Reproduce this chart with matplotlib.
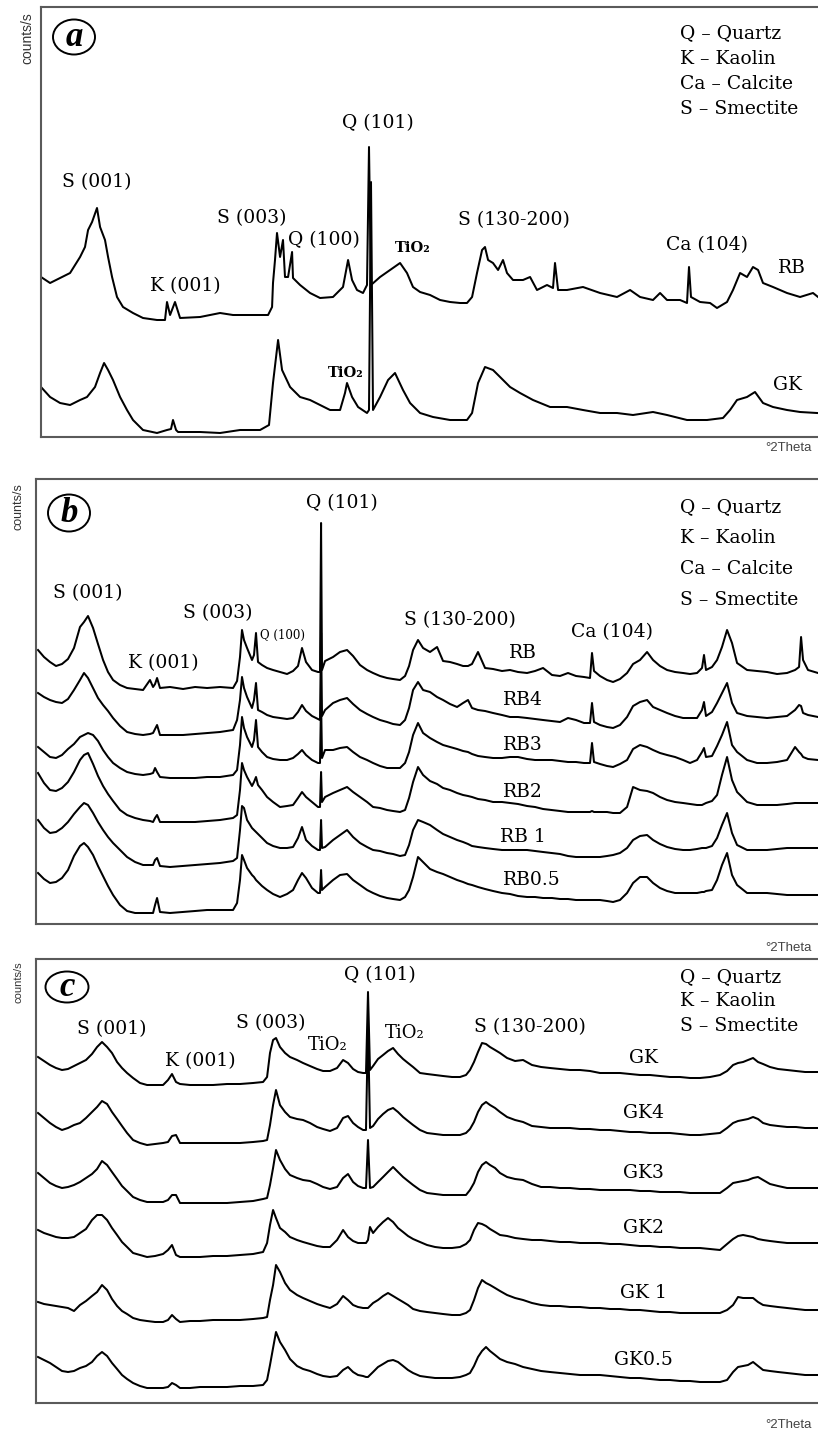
import numpy as np
import matplotlib
matplotlib.use("Agg")
import matplotlib.pyplot as plt
from matplotlib.patches import Ellipse

# ---------------- data: XRD scans, intensity in counts above each trace baseline ----------------
# (a) raw clays
tt_a_rb = [2.00, 2.68, 3.43, 4.18, 4.93, 5.30, 5.53, 5.83, 6.20, 6.43, 6.80, 7.03, 7.33, 7.70, 8.15, 8.90,
           9.65, 10.70, 11.30, 11.45, 11.68, 12.05, 12.43, 13.93, 15.43, 16.40, 17.90, 19.03, 19.33, 19.40,
           19.55, 19.70, 19.93, 20.15, 20.30, 20.53, 20.83, 20.90, 21.43, 22.18, 22.93, 23.90, 24.65, 25.03,
           25.33, 25.70, 26.15, 26.45, 26.60, 26.75, 27.43, 28.18, 28.93, 29.45, 29.90, 30.43, 31.18, 31.93,
           32.68, 33.43, 33.95, 34.33, 34.70, 35.08, 35.30, 35.53, 35.90, 36.28, 36.65, 36.95, 37.40, 38.15,
           38.68, 39.20, 39.95, 40.40, 40.55, 40.78, 41.45, 42.65, 43.93, 45.20, 46.18, 46.93, 47.90, 48.43,
           48.95, 49.93, 50.45, 50.60, 50.75, 51.43, 52.18, 52.70, 53.45, 53.90, 54.43, 54.95, 55.40, 55.78,
           56.15, 56.90, 57.95, 58.93, 59.90, 60.28]
rb_a = [43, 37, 42, 47, 63, 73, 90, 98, 112, 93, 80, 63, 43, 23, 13, 7, 2, 0, 0, 18, 5, 18, 2, 3, 7, 5, 5, 5,
        13, 37, 60, 87, 63, 80, 43, 43, 68, 42, 35, 27, 22, 23, 33, 60, 40, 30, 27, 35, 173, 35, 43, 50, 57,
        47, 33, 28, 25, 20, 18, 17, 17, 23, 47, 70, 73, 60, 57, 50, 60, 47, 40, 40, 43, 30, 35, 32, 57, 30,
        30, 33, 27, 23, 30, 23, 20, 27, 20, 20, 17, 53, 23, 18, 17, 12, 18, 30, 47, 43, 53, 50, 37, 33, 27,
        23, 27, 23]

tt_a_gk = [2.00, 2.68, 3.43, 4.18, 4.93, 5.45, 6.05, 6.43, 6.73, 7.03, 7.40, 7.93, 8.45, 8.90, 9.65, 10.70,
           11.45, 11.75, 11.90, 12.13, 12.28, 13.93, 15.43, 16.93, 18.43, 19.10, 19.40, 19.63, 19.78, 20.08,
           20.68, 21.43, 22.18, 22.93, 23.68, 24.43, 24.80, 24.95, 25.33, 25.78, 26.45, 26.60, 26.75, 26.90,
           27.43, 28.03, 28.55, 29.15, 29.68, 30.43, 31.40, 32.68, 33.95, 34.33, 34.78, 35.30, 35.90, 36.43,
           37.18, 37.93, 38.90, 40.18, 41.45, 42.65, 43.93, 45.20, 46.40, 47.90, 48.95, 50.45, 51.95, 53.15,
           53.68, 54.20, 54.95, 55.55, 56.15, 56.90, 57.95, 58.93, 60.20]
gk_a = [46, 36, 30, 28, 33, 36, 46, 60, 70, 63, 53, 36, 23, 13, 3, 0, 3, 4, 13, 3, 1, 1, 0, 3, 3, 8, 50, 76,
        93, 63, 46, 36, 33, 28, 23, 23, 40, 50, 36, 26, 20, 23, 251, 23, 36, 53, 60, 43, 30, 20, 16, 13, 13,
        20, 50, 66, 63, 56, 46, 40, 33, 26, 26, 23, 20, 20, 18, 21, 18, 13, 13, 15, 23, 33, 36, 41, 30, 26,
        23, 21, 20]

# (b) RB series
tt_b = [2.17, 2.68, 3.19, 3.70, 4.21, 4.72, 5.23, 5.74, 6.08, 6.42,
        6.85, 7.27, 7.70, 8.12, 8.55, 9.14, 9.74, 10.42, 11.10, 11.69,
        11.95, 12.12, 12.29, 12.54, 13.39, 14.50, 15.52, 16.54, 17.64, 18.75,
        19.09, 19.34, 19.51, 19.68, 19.94, 20.36, 20.53, 20.70, 20.87, 21.21,
        21.64, 22.15, 22.74, 23.34, 23.85, 24.27, 24.61, 24.95, 25.46, 25.97,
        26.14, 26.23, 26.31, 26.57, 27.25, 27.84, 28.44, 28.95, 29.54, 30.14,
        30.65, 31.24, 31.84, 32.35, 32.94, 33.37, 33.71, 34.05, 34.47, 34.90,
        35.49, 36.09, 36.60, 37.19, 37.79, 38.30, 38.72, 39.06, 39.57, 40.17,
        40.85, 41.61, 42.29, 42.97, 43.74, 44.42, 45.10, 45.86, 46.54, 47.22,
        47.90, 48.58, 49.09, 49.26, 49.43, 49.94, 50.54, 51.05, 51.64, 52.24,
        52.75, 53.34, 53.94, 54.45, 55.04, 55.64, 56.32, 57.00, 57.59, 58.19,
        58.61, 58.78, 58.95, 59.46, 59.89, 60.31, 60.74, 61.16, 61.59, 62.44,
        63.29, 64.14, 64.99, 65.84, 66.52, 66.86, 67.03, 67.20, 67.62, 68.47]
rb_b = [40, 33, 28, 24, 26, 31, 42, 63, 68, 74,
        62, 46, 30, 18, 10, 5, 2, 1, 0, 10,
        3, 6, 12, 2, 3, 1, 3, 2, 3, 2,
        9, 33, 60, 50, 42, 30, 35, 57, 28, 25,
        22, 20, 18, 16, 19, 24, 42, 28, 20, 18,
        18, 167, 20, 29, 33, 38, 40, 34, 25, 20,
        17, 14, 12, 11, 10, 14, 24, 40, 50, 42,
        38, 43, 29, 28, 26, 24, 24, 26, 38, 22,
        21, 19, 20, 18, 17, 19, 22, 15, 14, 17,
        14, 13, 12, 37, 19, 14, 10, 8, 11, 17,
        26, 30, 38, 30, 24, 20, 18, 17, 16, 17,
        22, 35, 20, 23, 30, 43, 60, 47, 27, 20,
        19, 18, 16, 17, 20, 23, 53, 30, 20, 17]
rb4_b = [42, 38, 35, 33, 32, 36, 45, 55, 62, 57,
         47, 37, 30, 24, 17, 9, 3, 1, 0, 1,
         2, 6, 10, 0, 0, 0, 1, 2, 3, 5,
         15, 35, 58, 47, 38, 27, 35, 52, 25, 23,
         20, 18, 17, 16, 17, 23, 30, 24, 19, 16,
         15, 102, 19, 25, 32, 35, 37, 31, 25, 21,
         18, 15, 13, 11, 10, 15, 27, 45, 53, 45,
         43, 38, 35, 31, 28, 32, 35, 27, 25, 24,
         22, 20, 18, 18, 17, 16, 15, 14, 13, 17,
         15, 12, 12, 32, 13, 10, 8, 7, 10, 18,
         29, 33, 35, 28, 25, 22, 19, 17, 17, 17,
         25, 33, 19, 23, 32, 42, 52, 32, 22, 19,
         18, 17, 18, 19, 25, 30, 29, 22, 20, 18]
rb3_b = [31, 26, 21, 20, 23, 29, 34, 41, 43, 45,
         43, 37, 28, 21, 15, 10, 6, 4, 3, 4,
         5, 10, 6, 1, 0, 0, 0, 1, 1, 3,
         8, 33, 61, 50, 41, 31, 38, 58, 31, 26,
         21, 19, 18, 18, 20, 24, 28, 23, 18, 15,
         15, 78, 20, 28, 28, 30, 31, 26, 21, 18,
         15, 12, 10, 10, 10, 15, 26, 43, 55, 45,
         40, 36, 33, 31, 29, 27, 26, 24, 22, 21,
         20, 20, 21, 21, 19, 18, 18, 18, 17, 16,
         16, 15, 15, 35, 16, 14, 12, 11, 14, 18,
         29, 33, 31, 28, 25, 23, 21, 18, 15, 18,
         26, 30, 21, 22, 32, 43, 56, 33, 26, 18,
         15, 15, 16, 18, 31, 26, 24, 21, 19, 18]
rb2_b = [49, 39, 32, 31, 34, 40, 50, 62, 67, 69,
         58, 46, 36, 28, 21, 12, 7, 4, 2, 1,
         0, 4, 7, 0, 0, 0, 0, 1, 2, 4,
         7, 32, 59, 52, 45, 36, 40, 45, 37, 32,
         25, 20, 15, 16, 17, 24, 30, 25, 20, 15,
         15, 50, 20, 25, 29, 32, 35, 30, 25, 20,
         15, 14, 12, 11, 10, 12, 24, 40, 55, 47,
         41, 38, 34, 32, 29, 27, 26, 25, 23, 22,
         20, 20, 19, 18, 16, 15, 13, 12, 11, 10,
         10, 10, 10, 11, 10, 10, 10, 9, 9, 15,
         35, 32, 31, 29, 25, 22, 20, 19, 18, 17,
         17, 18, 19, 21, 27, 47, 65, 42, 30, 20,
         17, 17, 17, 18, 19, 19, 19, 19, 19, 19]
rb1_b = [47, 39, 34, 35, 39, 45, 53, 60, 64, 62,
         54, 45, 37, 30, 24, 17, 10, 5, 2, 2,
         2, 7, 9, 1, 0, 1, 2, 3, 4, 6,
         9, 37, 61, 59, 47, 39, 37, 35, 33, 29,
         24, 21, 19, 19, 20, 29, 40, 27, 21, 17,
         17, 47, 19, 20, 27, 32, 37, 30, 24, 20,
         17, 16, 14, 13, 11, 12, 22, 37, 47, 45,
         42, 37, 33, 30, 27, 25, 23, 21, 20, 19,
         18, 17, 17, 17, 17, 16, 15, 14, 13, 11,
         10, 10, 10, 10, 10, 10, 11, 12, 14, 19,
         27, 31, 32, 27, 23, 20, 18, 17, 17, 18,
         19, 19, 19, 21, 29, 42, 54, 34, 22, 17,
         17, 17, 18, 19, 19, 19, 19, 19, 19, 19]
rb05_b = [40, 34, 30, 31, 35, 43, 57, 67, 70, 66,
          58, 47, 37, 27, 18, 8, 2, 0, 0, 0,
          0, 8, 15, 1, 0, 1, 2, 3, 3, 3,
          10, 33, 58, 53, 45, 38, 36, 33, 31, 27,
          23, 19, 16, 19, 23, 33, 40, 35, 25, 20,
          20, 43, 23, 26, 33, 38, 39, 33, 28, 23,
          20, 17, 15, 14, 13, 16, 23, 36, 56, 51,
          44, 41, 39, 36, 33, 31, 29, 28, 26, 24,
          22, 20, 19, 17, 16, 16, 15, 15, 14, 14,
          13, 13, 13, 13, 13, 13, 12, 11, 13, 20,
          30, 36, 36, 30, 25, 22, 20, 20, 20, 20,
          21, 21, 22, 23, 33, 48, 60, 38, 28, 20,
          20, 20, 19, 18, 18, 18, 18, 18, 18, 18]

# (c) GK series
tt_c = [2.15, 2.60, 3.05, 3.50, 3.95, 4.40, 4.85, 5.30, 5.75, 6.20,
        6.58, 6.95, 7.33, 7.70, 8.08, 8.45, 8.83, 9.28, 9.80, 10.33,
        10.93, 11.53, 11.90, 12.20, 12.50, 12.80, 13.55, 14.30, 15.28, 16.33,
        17.30, 18.28, 19.03, 19.33, 19.55, 19.78, 20.00, 20.30, 20.68, 21.05,
        21.58, 22.03, 22.55, 23.08, 23.53, 24.05, 24.58, 25.03, 25.40, 25.78,
        26.15, 26.53, 26.75, 26.90, 27.05, 27.28, 27.65, 28.03, 28.40, 28.78,
        29.15, 29.53, 29.90, 30.28, 30.80, 31.33, 31.93, 32.53, 33.20, 33.80,
        34.25, 34.55, 34.85, 35.15, 35.45, 35.75, 36.05, 36.43, 36.80, 37.33,
        37.93, 38.53, 39.20, 39.88, 40.55, 41.30, 42.05, 42.80, 43.55, 44.30,
        45.05, 45.80, 46.55, 47.30, 48.05, 48.80, 49.55, 50.30, 51.05, 51.80,
        52.55, 53.30, 53.83, 54.28, 54.65, 55.03, 55.40, 55.78, 56.15, 56.53,
        57.05, 57.65, 58.33, 59.00, 59.68, 60.65]
gk_c = [28, 24, 20, 17, 15, 16, 19, 22, 25, 31,
        38, 43, 38, 32, 23, 17, 12, 7, 2, 0,
        0, 0, 5, 11, 3, 1, 0, 0, 0, 1,
        1, 2, 3, 8, 32, 45, 47, 38, 32, 28,
        25, 22, 19, 16, 14, 14, 17, 25, 22, 16,
        13, 12, 12, 93, 15, 19, 26, 30, 34, 37,
        31, 26, 22, 18, 12, 11, 10, 9, 8, 8,
        10, 15, 23, 33, 42, 41, 38, 35, 32, 27,
        24, 25, 20, 18, 17, 16, 15, 15, 14, 12,
        12, 12, 11, 10, 10, 9, 8, 8, 7, 7,
        8, 10, 14, 20, 22, 23, 25, 27, 23, 21,
        18, 16, 15, 14, 13, 13]
gk4_c = [32, 27, 22, 18, 15, 17, 20, 22, 27, 33,
         38, 44, 41, 33, 26, 19, 12, 5, 2, 0,
         1, 2, 3, 9, 10, 2, 2, 2, 2, 2,
         2, 3, 4, 5, 20, 40, 55, 40, 33, 28,
         26, 25, 22, 18, 16, 14, 17, 27, 29, 22,
         18, 15, 15, 120, 17, 19, 26, 31, 35, 37,
         33, 28, 24, 20, 15, 12, 11, 10, 10, 10,
         12, 16, 23, 33, 40, 43, 40, 37, 33, 28,
         25, 23, 19, 18, 17, 17, 17, 16, 16, 15,
         15, 14, 13, 13, 12, 12, 12, 11, 10, 10,
         11, 12, 17, 22, 24, 25, 26, 28, 26, 22,
         20, 19, 18, 18, 17, 17]
gk3_c = [30, 25, 20, 17, 15, 16, 18, 21, 25, 29,
         34, 42, 38, 31, 24, 17, 12, 6, 3, 1,
         1, 1, 3, 8, 8, 0, 0, 0, 0, 0,
         1, 2, 4, 5, 18, 35, 53, 43, 34, 28,
         25, 23, 22, 19, 16, 14, 16, 25, 29, 21,
         17, 15, 15, 63, 15, 16, 21, 26, 31, 36,
         31, 26, 22, 18, 13, 10, 9, 8, 8, 8,
         8, 13, 20, 31, 38, 41, 38, 35, 30, 26,
         24, 23, 19, 16, 16, 15, 15, 14, 14, 13,
         13, 13, 13, 12, 12, 11, 11, 11, 10, 10,
         10, 10, 15, 20, 21, 22, 23, 25, 26, 23,
         19, 17, 15, 15, 15, 15]
gk2_c = [27, 24, 22, 20, 19, 19, 20, 24, 28, 37,
         42, 42, 37, 29, 22, 15, 10, 4, 2, 0,
         1, 3, 7, 12, 2, 0, 0, 0, 1, 1,
         2, 3, 5, 14, 32, 47, 39, 29, 25, 20,
         17, 15, 13, 11, 10, 10, 17, 27, 20, 16,
         14, 14, 14, 17, 30, 24, 30, 35, 39, 35,
         29, 25, 21, 18, 15, 12, 10, 9, 9, 10,
         13, 17, 27, 34, 33, 31, 28, 25, 22, 21,
         19, 18, 17, 17, 16, 15, 15, 14, 14, 14,
         13, 13, 12, 11, 11, 10, 10, 9, 9, 9,
         8, 7, 13, 18, 21, 22, 21, 20, 18, 17,
         16, 15, 14, 14, 14, 14]
gk1_c = [20, 18, 17, 16, 15, 14, 11, 17, 21, 26,
         30, 37, 32, 23, 16, 11, 8, 4, 2, 1,
         0, 0, 2, 7, 3, 0, 1, 1, 2, 2,
         2, 3, 4, 5, 22, 37, 57, 50, 39, 32,
         27, 24, 21, 18, 16, 14, 18, 26, 22, 17,
         15, 14, 14, 14, 16, 19, 22, 26, 29, 26,
         23, 20, 17, 13, 11, 10, 9, 8, 7, 7,
         9, 12, 22, 34, 42, 39, 37, 34, 31, 27,
         24, 22, 19, 17, 16, 16, 15, 15, 14, 14,
         13, 13, 12, 12, 11, 10, 10, 9, 9, 9,
         9, 9, 12, 17, 25, 24, 24, 24, 20, 17,
         16, 15, 14, 13, 12, 12]
gk05_c = [31, 28, 25, 21, 17, 16, 17, 20, 22, 26,
          32, 36, 32, 25, 19, 13, 9, 5, 2, 0,
          0, 0, 1, 5, 3, 0, 0, 1, 1, 1,
          2, 2, 3, 8, 23, 40, 56, 46, 38, 29,
          22, 19, 17, 14, 12, 11, 12, 18, 21, 16,
          13, 12, 11, 11, 13, 16, 21, 24, 27, 28,
          26, 22, 18, 15, 12, 11, 10, 10, 10, 11,
          13, 15, 22, 31, 37, 41, 37, 33, 29, 26,
          24, 21, 19, 17, 16, 15, 14, 13, 13, 13,
          12, 11, 10, 10, 9, 8, 8, 7, 7, 6,
          6, 6, 8, 16, 21, 22, 23, 26, 22, 18,
          17, 16, 15, 14, 13, 13]

legend_rb = ["Q \u2013 Quartz", "K \u2013 Kaolin", "Ca \u2013 Calcite", "S \u2013 Smectite"]
legend_gk = ["Q \u2013 Quartz", "K \u2013 Kaolin", "S \u2013 Smectite"]

# ---------------- figure ----------------
W, H = 818, 1435
fig = plt.figure(figsize=(W / 100, H / 100), dpi=100)
SERIF = "DejaVu Serif"
SANS = "Liberation Sans"
TRACE_LW = 1.45


def fpos(x, y):
    return x / W, 1 - y / H


def panel(left, top, bottom, xlim):
    ax = fig.add_axes([left / W, 1 - bottom / H, 1 - left / W, (bottom - top) / H])
    ax.set_xlim(*xlim)
    ax.set_ylim(0, bottom - top)
    ax.set_xticks([])
    ax.set_yticks([])
    ax.spines["right"].set_visible(False)
    for s in ("left", "top", "bottom"):
        ax.spines[s].set_color("#5a5a5a")
        ax.spines[s].set_linewidth(1.5)
    return ax


def label(x, y, s, size=13.5, **kw):
    kw.setdefault("family", SERIF)
    kw.setdefault("ha", "center")
    kw.setdefault("va", "center")
    fig.text(*fpos(x, y), s, fontsize=size, color="black", **kw)


def badge(x, y, w, h, letter):
    fig.patches.append(Ellipse(fpos(x, y), w / W, h / H, transform=fig.transFigure,
                               fill=False, edgecolor="black", lw=1.4))
    label(x, y + 1, letter, size=25, family="Liberation Serif", weight="bold", style="italic")


def side_texts(xcounts, ycounts, count_size, ytheta):
    fig.text(*fpos(xcounts, ycounts), "counts/s", rotation=90, family=SANS, fontsize=count_size,
             color="#333333", ha="center", va="center")
    fig.text(*fpos(788, ytheta), "\u00b02Theta", family=SANS, fontsize=9.5, color="#444444",
             ha="center", va="center")


def legend(lines, y0, dy):
    for i, s in enumerate(lines):
        label(680, y0 + i * dy, s, size=13.5, ha="left")


def traces(ax, tt, series, offsets):
    for vals, off in zip(series, offsets):
        ax.plot(tt, np.asarray(vals) + off, color="black", lw=TRACE_LW)


# ---- (a) ----
ax_a = panel(41, 7, 437, (2.0, 60.275))
ax_a.plot(tt_a_rb, np.asarray(rb_a) + 117, color="black", lw=TRACE_LW)
ax_a.plot(tt_a_gk, np.asarray(gk_a) + 4, color="black", lw=TRACE_LW)
badge(74, 37, 42, 35, "a")
side_texts(27, 38, 10, 448)
legend(legend_rb, 33, 25.5)
label(97, 182, "S (001)")
label(185, 286, "K (001)")
label(252, 218, "S (003)")
label(324, 240, "Q (100)")
label(378, 123, "Q (101)")
label(413, 248, "TiO\u2082", size=10.5, weight="bold")
label(346, 373, "TiO\u2082", size=10.5, weight="bold")
label(514, 220, "S (130-200)")
label(707, 245, "Ca (104)")
label(792, 268, "RB")
label(787, 385, "GK")

# ---- (b) ----
ax_b = panel(36, 479, 924, (2.0, 68.47))
traces(ax_b, tt_b, [rb_b, rb4_b, rb3_b, rb2_b, rb1_b, rb05_b], [234, 189, 146, 102, 57, 11])
badge(69, 513, 42, 37, "b")
side_texts(19, 507, 9, 948)
legend(legend_rb, 507, 31)
label(342, 503, "Q (101)")
label(88, 593, "S (001)")
label(218, 613, "S (003)")
label(283, 635, "Q (100)", size=8.5)
label(163, 663, "K (001)")
label(460, 620, "S (130-200)")
label(612, 632, "Ca (104)")
for name, yy in zip(["RB", "RB4", "RB3", "RB2", "RB 1", "RB0.5"], [653, 700, 745, 792, 837, 880]):
    label(523 if name != "RB0.5" else 532, yy, name)

# ---- (c) ----
ax_c = panel(36, 959, 1403, (2.0, 60.65))
traces(ax_c, tt_c, [gk_c, gk4_c, gk3_c, gk2_c, gk1_c, gk05_c], [318, 258, 200, 146, 81, 15])
badge(67, 987, 43, 31, "c")
side_texts(19, 982, 8, 1425)
legend(legend_gk, 977, 24.5)
label(380, 975, "Q (101)")
label(112, 1029, "S (001)")
label(200, 1061, "K (001)")
label(271, 1023, "S (003)")
label(328, 1045, "TiO\u2082", size=13)
label(405, 1033, "TiO\u2082", size=13)
label(530, 1027, "S (130-200)")
for name, yy in zip(["GK", "GK4", "GK3", "GK2", "GK 1", "GK0.5"], [1058, 1113, 1173, 1228, 1293, 1360]):
    label(643, yy, name)

fig.savefig("out.png", dpi=100, facecolor="white")
